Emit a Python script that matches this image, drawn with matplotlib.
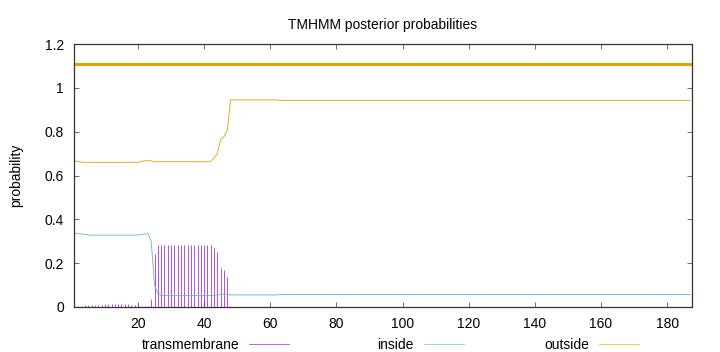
import numpy as np
import matplotlib
matplotlib.use("Agg")
import matplotlib.pyplot as plt
from matplotlib.lines import Line2D

plt.rcParams['font.family'] = ['Liberation Sans', 'DejaVu Sans']
plt.rcParams['font.size'] = 10

# posterior probabilities per residue (positions 1..187)
transmembrane = ([0.002, 0.003, 0.005,
                  0.007, 0.008, 0.009, 0.010, 0.011, 0.011, 0.012, 0.012, 0.012,
                  0.012, 0.012, 0.012, 0.012, 0.012, 0.011, 0.011, 0.010,
                  0.004, 0.003, 0.003, 0.035, 0.24,
                  0.283, 0.285, 0.285, 0.285, 0.285, 0.285, 0.285, 0.285, 0.285,
                  0.285, 0.285, 0.285, 0.285, 0.285, 0.285, 0.285, 0.284,
                  0.268, 0.25, 0.18, 0.167, 0.135]
                 + [0.0] * 140)
inside = ([0.336, 0.335, 0.333, 0.331, 0.329, 0.328]
          + [0.328] * 13
          + [0.329, 0.331, 0.333, 0.334, 0.30, 0.10, 0.062]
          + [0.052] * 16
          + [0.053, 0.055, 0.057, 0.058, 0.058]
          + [0.055] * 15
          + [0.057] * 125)
outside = ([0.666, 0.663, 0.661]
           + [0.660] * 17
           + [0.664, 0.667, 0.668, 0.667, 0.662]
           + [0.663] * 16 + [0.665]
           + [0.68, 0.70, 0.765, 0.777, 0.807]
           + [0.945] * 15
           + [0.943] * 125)
pos = np.arange(1, len(inside) + 1)

# predicted topology bar
topo_start = [1]
topo_end = [187]
topo_level = 1.11

c_tm = '#9400D3'
c_in = '#56B4E9'
c_out = '#E69F00'

fig = plt.figure(figsize=(7.2, 3.52), dpi=100)
ax = fig.add_axes([73.5 / 720, 1 - 307 / 352, (692 - 73.5) / 720, (307 - 44) / 352])

ax.vlines(pos, 0, transmembrane, color=c_tm, lw=0.6, alpha=0.8)
ax.plot(pos, inside, color=c_in, lw=0.6)
ax.plot(pos, outside, color=c_out, lw=0.6)
for s, e in zip(topo_start, topo_end):
    ax.hlines(topo_level, s - 0.5, e + 0.5, color=c_out, lw=2.2)

ax.set_xlim(0.5, 187.5)
ax.set_ylim(0, 1.2)
ax.set_xticks(np.arange(20, 181, 20))
ax.set_yticks([0, 0.2, 0.4, 0.6, 0.8, 1.0, 1.2])
ax.set_yticklabels(['0', '0.2', '0.4', '0.6', '0.8', '1', '1.2'])
ax.tick_params(direction='in', length=3.5, width=0.6, color='#555555',
               top=True, right=True, labelsize=10, pad=7)
for sp in ax.spines.values():
    sp.set_color('#333333')
    sp.set_linewidth(0.9)

ax.set_title('TMHMM posterior probabilities', fontsize=10, pad=11)
ax.set_ylabel('probability', fontsize=10, labelpad=15)

# key along the bottom, text to the left of the sample line
key = [('transmembrane', c_tm, 239, 249), ('inside', c_in, 414, 424),
       ('outside', c_out, 589, 599)]
for label, col, tx, lx in key:
    fig.text(tx / 720, 1 - 349 / 352, label, ha='right', va='baseline', fontsize=10)
    fig.add_artist(Line2D([lx / 720, (lx + 40) / 720], [1 - 344 / 352] * 2,
                          color=col, lw=0.6, alpha=0.7, transform=fig.transFigure))

fig.savefig('out.png', dpi=100)
